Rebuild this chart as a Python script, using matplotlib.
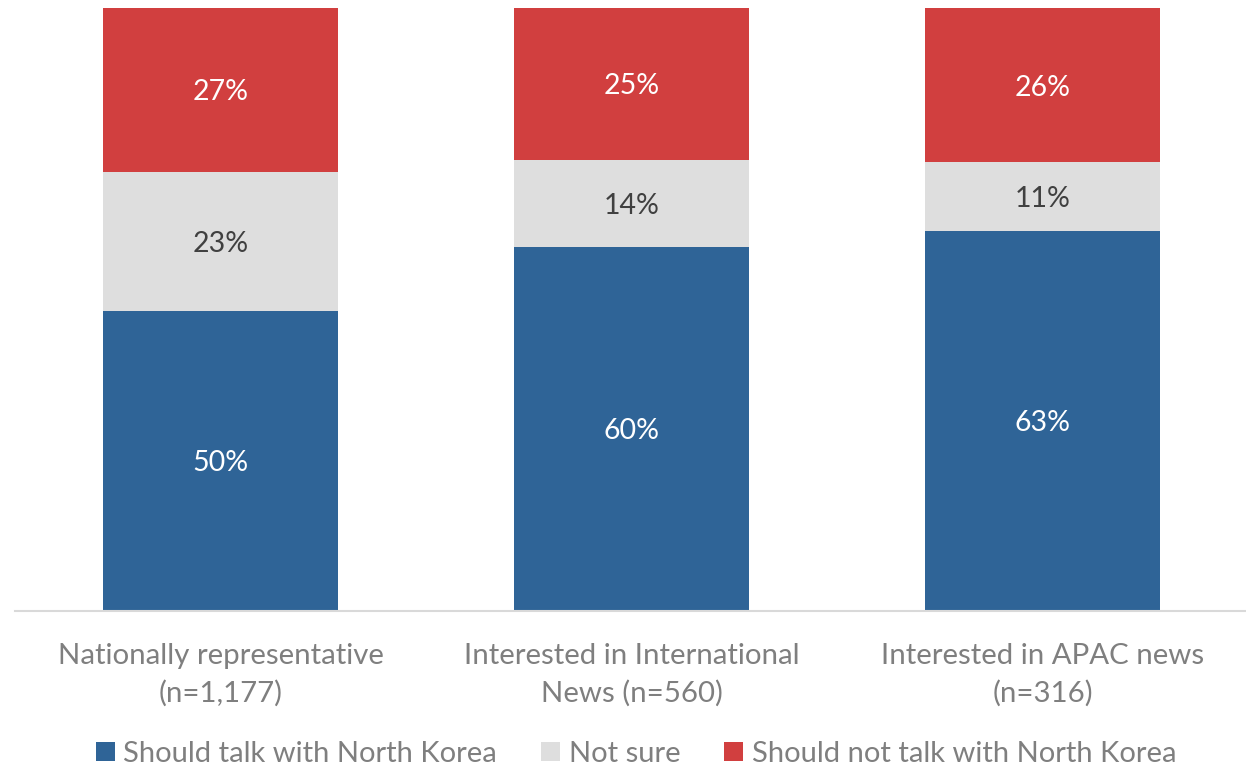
import numpy as np
import matplotlib.pyplot as plt

plt.rcParams['font.family'] = ['Lato', 'DejaVu Sans']

categories = ['Nationally representative\n(n=1,177)',
              'Interested in International\nNews (n=560)',
              'Interested in APAC news\n(n=316)']
talk = [49.8, 60.4, 63.0]          # Should talk with North Korea
not_sure = [23.0, 14.4, 11.4]      # Not sure
not_talk = [27.2, 25.2, 25.6]      # Should not talk with North Korea
talk_lbl = [50, 60, 63]
not_sure_lbl = [23, 14, 11]
not_talk_lbl = [27, 25, 26]

blue = '#2F6497'
gray = '#DEDEDE'
red = '#D13F3F'

fig = plt.figure(figsize=(12.46, 7.70), dpi=100)
ax = fig.add_axes([15 / 1246, 1 - 611 / 770, 1233 / 1246, 603 / 770])

x = np.arange(len(categories))
w = 0.572
talk = np.array(talk)
not_sure = np.array(not_sure)
not_talk = np.array(not_talk)
b1 = ax.bar(x, talk, w, color=blue, label='Should talk with North Korea')
b2 = ax.bar(x, not_sure, w, bottom=talk, color=gray, label='Not sure')
b3 = ax.bar(x, not_talk, w, bottom=talk + not_sure, color=red,
            label='Should not talk with North Korea')

fs = 20.5
for i in range(len(x)):
    ax.text(x[i], talk[i] / 2 - 0.4, '%d%%' % talk_lbl[i], ha='center', va='center',
            color='white', fontsize=fs)
    ax.text(x[i], talk[i] + not_sure[i] / 2 - 0.4, '%d%%' % not_sure_lbl[i],
            ha='center', va='center', color='#404040', fontsize=fs)
    ax.text(x[i], talk[i] + not_sure[i] + not_talk[i] / 2 - 0.4, '%d%%' % not_talk_lbl[i],
            ha='center', va='center', color='white', fontsize=fs)

ax.set_xlim(-0.5, 2.5)
ax.set_ylim(0, 100)
ax.set_yticks([])
ax.set_xticks(x)
ax.set_xticklabels(categories, fontsize=21.2, color='#7F7F7F', linespacing=1.5)
ax.tick_params(axis='x', length=0, pad=23)
for s in ['top', 'right', 'left']:
    ax.spines[s].set_visible(False)
ax.spines['bottom'].set_color('#D9D9D9')
ax.spines['bottom'].set_linewidth(1.5)

leg = fig.legend(handles=[b1, b2, b3], loc='center',
                 bbox_to_anchor=(0.5 + 13 / 1246, 1 - 754 / 770),
                 ncol=3, frameon=False, fontsize=21, handlelength=0.65, handleheight=0.65,
                 handletextpad=0.3, columnspacing=1.5)
for t in leg.get_texts():
    t.set_color('#7F7F7F')

plt.savefig('out.png', dpi=100)
